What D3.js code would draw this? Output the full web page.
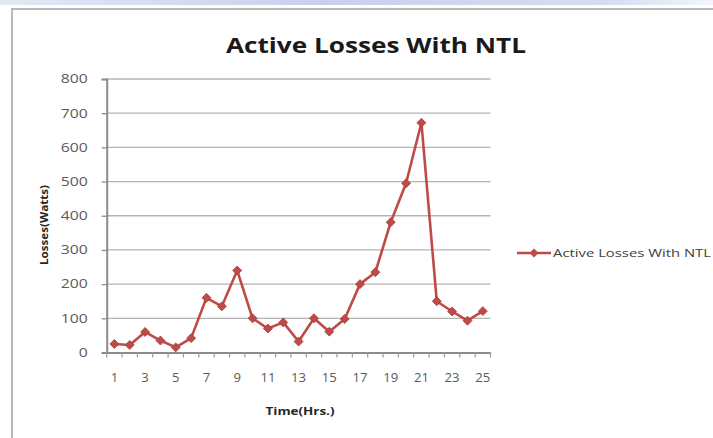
<!DOCTYPE html>
<html>
<head>
<meta charset="utf-8">
<script src="https://cdn.jsdelivr.net/npm/d3@7"></script>
<style>
  html, body { margin: 0; padding: 0; background: #ffffff; }
  svg { display: block; }
</style>
</head>
<body>
<svg id="chart" width="713" height="438"></svg>
<script>
// Hourly active losses (W) with non-technical losses
const hours = d3.range(1, 26);
const losses = [25, 22, 60, 35, 15, 42, 160, 135, 240, 100, 70, 88, 32, 100, 61, 98, 200, 235, 381, 495, 672, 150, 120, 93, 121];
const yTicks = [0, 100, 200, 300, 400, 500, 600, 700, 800];
const seriesName = "Active Losses With NTL";
const titleText = "Active Losses With NTL";
const xTitle = "Time(Hrs.)";
const yTitle = "Losses(Watts)";

const svg = d3.select("#chart");
const W = 713, H = 438;
const font = "'Open Sans', 'DejaVu Sans', sans-serif";

// page strip and chart frame
const grad = svg.append("defs").append("linearGradient").attr("id", "strip");
grad.append("stop").attr("offset", "0%").attr("stop-color", "#e4e8f4");
grad.append("stop").attr("offset", "45%").attr("stop-color", "#c9d0ea");
grad.append("stop").attr("offset", "85%").attr("stop-color", "#d6dcf0");
grad.append("stop").attr("offset", "100%").attr("stop-color", "#f2f6fb");
svg.append("rect").attr("x", 0).attr("y", 0).attr("width", W).attr("height", 5).attr("fill", "url(#strip)");
svg.append("rect").attr("x", 12).attr("y", 9).attr("width", W).attr("height", H)
  .attr("fill", "#ffffff").attr("stroke", "#b8b8b8").attr("stroke-width", 2);

const margin = { left: 106.7, right: 222.5, top: 79, bottom: 85.5 };
const x = d3.scaleBand().domain(hours).range([margin.left, W - margin.right]);
const y = d3.scaleLinear().domain([0, 800]).range([H - margin.bottom, margin.top]);

// horizontal gridlines
svg.append("g").selectAll("line").data(yTicks.filter(d => d > 0)).join("line")
  .attr("x1", margin.left).attr("x2", W - margin.right)
  .attr("y1", d => y(d)).attr("y2", d => y(d))
  .attr("stroke", "#b4b4b4").attr("stroke-width", 1.3);

// y axis
const yAxis = svg.append("g").attr("transform", `translate(${margin.left},0)`)
  .call(d3.axisLeft(y).tickValues(yTicks).tickSize(5).tickPadding(14));
yAxis.select(".domain").attr("stroke", "#8c8c8c").attr("stroke-width", 2);
yAxis.selectAll(".tick line").attr("stroke", "#8c8c8c").attr("stroke-width", 1.3);
yAxis.selectAll("text").attr("font-family", font).attr("font-size", 12).attr("fill", "#5a5a5a")
  .attr("textLength", d => String(d).length * 9).attr("lengthAdjust", "spacingAndGlyphs");

// x axis: ticks at category boundaries, labels on odd hours
const xAxis = svg.append("g").attr("transform", `translate(0,${y(0)})`)
  .call(d3.axisBottom(x).tickSize(0).tickPadding(21)
    .tickFormat(d => (d % 2 === 1 ? d : "")));
xAxis.select(".domain").attr("stroke", "#8c8c8c").attr("stroke-width", 2);
xAxis.selectAll("text").attr("font-family", font).attr("font-size", 12).attr("fill", "#5a5a5a")
  .filter(d => d % 2 === 1)
  .attr("textLength", d => String(d).length * 7.5).attr("lengthAdjust", "spacingAndGlyphs");
const bounds = hours.map(h => x(h)).concat([x(hours[hours.length - 1]) + x.bandwidth()]);
svg.append("g").selectAll("line").data(bounds).join("line")
  .attr("x1", d => d).attr("x2", d => d)
  .attr("y1", y(0)).attr("y2", y(0) + 5)
  .attr("stroke", "#9a9a9a").attr("stroke-width", 1.2);

const cx = h => x(h) + x.bandwidth() / 2;
const red = "#be4b48";

// series line and diamond markers
svg.append("path").datum(losses)
  .attr("d", d3.line().x((d, i) => cx(hours[i])).y(d => y(d)))
  .attr("fill", "none").attr("stroke", red).attr("stroke-width", 2.6)
  .attr("stroke-linejoin", "round");
const diamond = d3.symbol().type(d3.symbolSquare).size(40);
svg.append("g").selectAll("path").data(losses).join("path")
  .attr("d", diamond)
  .attr("transform", (d, i) => `translate(${cx(hours[i])},${y(d)}) rotate(45)`)
  .attr("fill", red).attr("stroke", "#a83e3b").attr("stroke-width", 0.8);

// titles
svg.append("text").attr("x", 376).attr("y", 53).attr("text-anchor", "middle")
  .attr("font-family", font).attr("font-weight", "bold").attr("font-size", 21)
  .attr("textLength", 300).attr("lengthAdjust", "spacingAndGlyphs")
  .attr("fill", "#1a1a1a").text(titleText);
svg.append("text").attr("x", 300).attr("y", 415).attr("text-anchor", "middle")
  .attr("font-family", font).attr("font-weight", "bold").attr("font-size", 10.5)
  .attr("textLength", 69).attr("lengthAdjust", "spacingAndGlyphs")
  .attr("fill", "#262626").text(xTitle);
svg.append("text").attr("transform", "translate(48,225) rotate(-90)").attr("text-anchor", "middle")
  .attr("font-family", font).attr("font-weight", "bold").attr("font-size", 10)
  .attr("textLength", 80).attr("lengthAdjust", "spacingAndGlyphs")
  .attr("fill", "#262626").text(yTitle);

// legend
const lg = svg.append("g").attr("transform", "translate(517,253)");
lg.append("line").attr("x1", 0).attr("x2", 34).attr("stroke", red).attr("stroke-width", 2.6);
lg.append("path").attr("d", diamond).attr("transform", "translate(17,0) rotate(45)").attr("fill", red);
lg.append("text").attr("x", 36).attr("y", 4).attr("font-family", font).attr("font-size", 10.5)
  .attr("textLength", 158).attr("lengthAdjust", "spacingAndGlyphs")
  .attr("fill", "#404040").text(seriesName);
</script>
</body>
</html>
